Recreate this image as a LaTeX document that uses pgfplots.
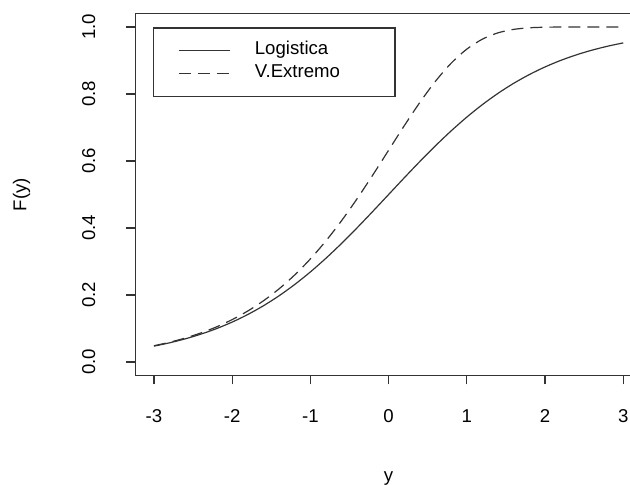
\documentclass[border=0pt]{standalone}
\usepackage{fontspec}
\setmainfont{Liberation Sans}
\usepackage{pgfplots}
\pgfplotsset{compat=1.18}
\definecolor{rline}{gray}{0.2}

\begin{document}
\fontsize{9.3pt}{11pt}\selectfont
\begin{tikzpicture}
\begin{axis}[
  at={(67.6pt,54.3pt)}, anchor=south west,
  scale only axis, width=253.4pt, height=180.9pt,
  xmin=-3.24, xmax=3.24, ymin=-0.04, ymax=1.04,
  axis line style={rline, line width=0.6pt},
  xtick={-3,-2,-1,0,1,2,3}, xticklabels={-3,-2,-1,0,1,2,3},
  ytick={0,0.2,0.4,0.6,0.8,1}, yticklabels={0.0,0.2,0.4,0.6,0.8,1.0},
  xtick pos=left, ytick pos=left,
  tick align=outside, major tick length=4.5pt,
  tick style={rline, line width=0.6pt},
  xticklabel style={anchor=base, yshift=-18.8pt},
  yticklabel style={anchor=base, xshift=-15.5pt, rotate=90},
  every axis x label/.style={at={(axis description cs:0.5,-0.2919)}, anchor=base},
  every axis y label/.style={at={(axis description cs:-0.2147,0.5)}, rotate=90, anchor=base},
  xlabel={y}, ylabel={F(y)},
  legend style={draw=rline, line width=0.6pt,
    at={(axis description cs:0.0357,0.9621)}, anchor=north west,
    inner xsep=0pt, inner ysep=5.7pt, row sep=0pt, column sep=0pt,
    cells={anchor=west},
    nodes={inner sep=0pt, text height=7.4pt, text depth=4.1pt}},
  legend image code/.code={
    \path[draw=none] (0pt,0pt) -- (50.5pt,0pt);
    \draw[#1] (12.5pt,0pt) -- (38pt,0pt);
  },
]
% logistica
\addplot[rline, line width=0.6pt, smooth] coordinates {
(-3.0,0.04743) (-2.8,0.05732) (-2.6,0.06914) (-2.4,0.08317) (-2.2,0.09975)
(-2.0,0.11920) (-1.8,0.14185) (-1.6,0.16798) (-1.4,0.19782) (-1.2,0.23148)
(-1.0,0.26894) (-0.8,0.31003) (-0.6,0.35434) (-0.4,0.40131) (-0.2,0.45017)
(0.0,0.50000) (0.2,0.54983) (0.4,0.59869) (0.6,0.64566) (0.8,0.68997)
(1.0,0.73106) (1.2,0.76852) (1.4,0.80218) (1.6,0.83202) (1.8,0.85815)
(2.0,0.88080) (2.2,0.90025) (2.4,0.91683) (2.6,0.93086) (2.8,0.94268)
(3.0,0.95257)};
\addlegendentry{\makebox[70pt][l]{Logistica}}
% valor extremo
\addplot[rline, line width=0.6pt, smooth, dash pattern=on 6pt off 3.5pt] coordinates {
(-3.0,0.04857) (-2.8,0.05900) (-2.6,0.07158) (-2.4,0.08673) (-2.2,0.10487)
(-2.0,0.12658) (-1.8,0.15236) (-1.6,0.18282) (-1.4,0.21854) (-1.2,0.26005)
(-1.0,0.30780) (-0.8,0.36195) (-0.6,0.42236) (-0.4,0.48845) (-0.2,0.55901)
(0.0,0.63212) (0.2,0.70520) (0.4,0.77504) (0.6,0.83831) (0.8,0.89202)
(1.0,0.93401) (1.2,0.96385) (1.4,0.98267) (1.6,0.99294) (1.8,0.99764)
(2.0,0.99938) (2.2,0.99988) (2.4,0.99998) (2.6,1.00000) (2.8,1.00000)
(3.0,1.00000)};
\addlegendentry{\makebox[70pt][l]{V.Extremo}}
\end{axis}
\pgfresetboundingbox
\useasboundingbox (0pt,0pt) rectangle (315pt,242pt);
\end{tikzpicture}
\end{document}
